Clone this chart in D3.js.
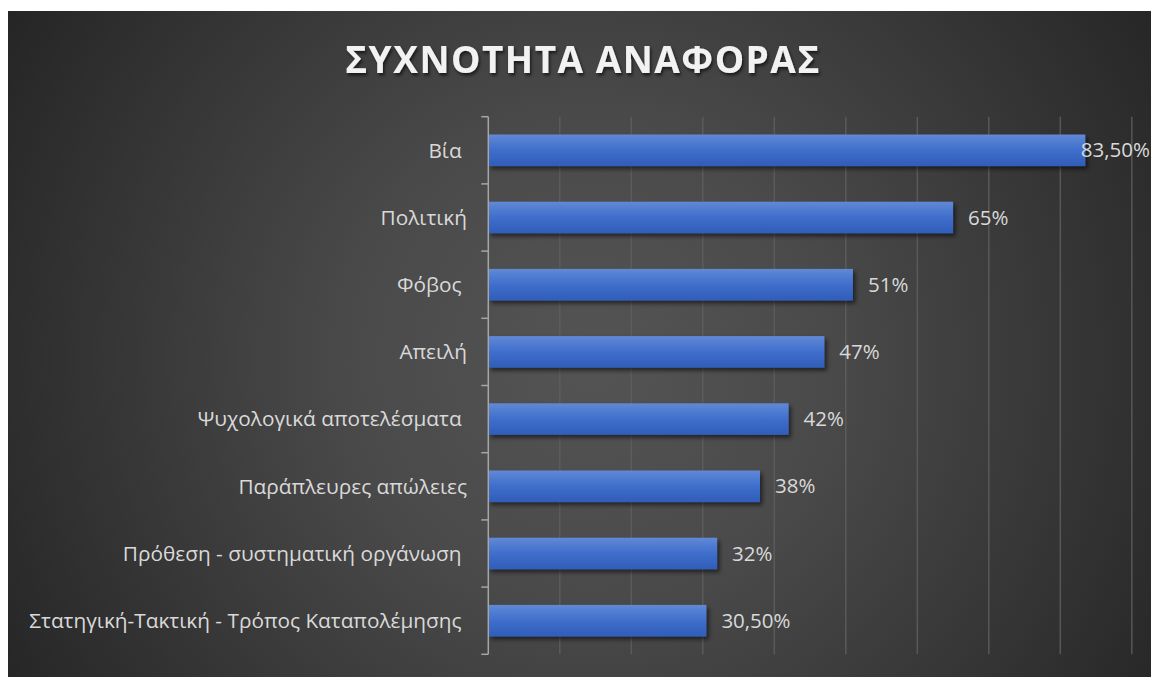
<!DOCTYPE html>
<html><head><meta charset="utf-8">
<script src="https://cdn.jsdelivr.net/npm/d3@7"></script>
<style>
html,body{margin:0;padding:0;background:#fff;}
svg{display:block;}
text{white-space:pre;}
</style></head>
<body>
<script>
const categories = ["Βία ", "Πολιτική", "Φόβος ", "Απειλή", "Ψυχολογικά αποτελέσματα ", "Παράπλευρες απώλειες", "Πρόθεση - συστηματική οργάνωση ", "Στατηγική-Τακτική - Τρόπος Καταπολέμησης "];
const values = [0.835, 0.65, 0.51, 0.47, 0.42, 0.38, 0.32, 0.305];
const valueLabels = ["83,50%", "65%", "51%", "47%", "42%", "38%", "32%", "30,50%"];
const title = "ΣΥΧΝΟΤΗΤΑ ΑΝΑΦΟΡΑΣ";
const xTicks = [0,0.1,0.2,0.3,0.4,0.5,0.6,0.7,0.8,0.9];

const W = 1151, H = 677;
const svg = d3.select("body").append("svg").attr("width", W).attr("height", H);
const defs = svg.append("defs");
const bg = defs.append("radialGradient").attr("id","bg").attr("gradientUnits","userSpaceOnUse")
  .attr("cx", 590).attr("cy", 360).attr("r", 680);
bg.append("stop").attr("offset","0").attr("stop-color","#545454");
bg.append("stop").attr("offset","0.35").attr("stop-color","#4a4a4a");
bg.append("stop").attr("offset","1").attr("stop-color","#252525");
const bar = defs.append("linearGradient").attr("id","bar").attr("x1",0).attr("y1",0).attr("x2",0).attr("y2",1);
bar.append("stop").attr("offset","0").attr("stop-color","#6189d6");
bar.append("stop").attr("offset","0.5").attr("stop-color","#3f6ecb");
bar.append("stop").attr("offset","1").attr("stop-color","#2f5db8");
const sh = defs.append("filter").attr("id","sh").attr("x","-10%").attr("y","-30%").attr("width","130%").attr("height","180%");
sh.append("feDropShadow").attr("dx",2.5).attr("dy",3).attr("stdDeviation",2.2).attr("flood-color","#000").attr("flood-opacity",0.55);
const tsh = defs.append("filter").attr("id","tsh").attr("x","-10%").attr("y","-30%").attr("width","120%").attr("height","180%");
tsh.append("feDropShadow").attr("dx",1.5).attr("dy",2.5).attr("stdDeviation",1.8).attr("flood-color","#000").attr("flood-opacity",0.6);

svg.append("rect").attr("x",8).attr("y",11).attr("width",W-8).attr("height",H-11).attr("fill","url(#bg)");

const x = d3.scaleLinear().domain([0, 0.9]).range([488.3, 1131.8]);
const y = d3.scaleBand().domain(categories).range([116.7, 654.3]).paddingInner(0.53).paddingOuter(0.265);

// gridlines
svg.append("g").selectAll("line").data(xTicks.slice(1)).join("line")
  .attr("x1", d=>x(d)).attr("x2", d=>x(d)).attr("y1", 116.7).attr("y2", 654.3)
  .attr("stroke","#5e5e5e").attr("stroke-width",1.5).attr("stroke-opacity",0.85);

// bars
svg.append("g").selectAll("rect").data(values).join("rect")
  .attr("x", x(0)).attr("y",(d,i)=>y(categories[i]))
  .attr("width", d=>x(d)-x(0)).attr("height", y.bandwidth())
  .attr("fill","url(#bar)").attr("filter","url(#sh)");

// y axis
const yAxisBoundaries = d3.range(categories.length+1).map(i => 116.7 + i*(654.3-116.7)/categories.length);
const ax = svg.append("g");
ax.append("line").attr("x1",x(0)).attr("x2",x(0)).attr("y1",116.7).attr("y2",654.3).attr("stroke","#a6a6a6").attr("stroke-width",1.5);
ax.selectAll("line.t").data(yAxisBoundaries).join("line").attr("class","t")
  .attr("x1",x(0)-7).attr("x2",x(0)).attr("y1",d=>d).attr("y2",d=>d).attr("stroke","#a6a6a6").attr("stroke-width",1.5);

// category labels
svg.append("g").selectAll("text").data(categories).join("text")
  .attr("x", 467).attr("y", d=>y(d)+y.bandwidth()/2).attr("dy","0.35em")
  .attr("text-anchor","end").attr("fill","#d9d9d9")
  .style("font-family","'Open Sans', 'Noto Sans', sans-serif").style("font-size","20.8px")
  .text(d=>d);

// value labels
const vl = svg.append("g").selectAll("text").data(values).join("text")
  .attr("y",(d,i)=>y(categories[i])+y.bandwidth()/2).attr("dy","0.35em")
  .attr("fill","#d9d9d9")
  .style("font-family","'Open Sans', 'Noto Sans', sans-serif").style("font-size","20.5px")
  .text((d,i)=>valueLabels[i]);
vl.each(function(d){
  const w = this.getComputedTextLength();
  const px = Math.min(x(d)+15, W - w - 1);
  d3.select(this).attr("x", px);
});

// title
svg.append("text").attr("x", 583).attr("y", 72.5).attr("text-anchor","middle")
  .attr("fill","#f2f2f2").attr("filter","url(#tsh)")
  .style("font-family","'Open Sans', 'Noto Sans', sans-serif").style("font-size","37px")
  .style("font-weight","bold").style("letter-spacing","1.5px")
  .text(title);
</script>
</body></html>
